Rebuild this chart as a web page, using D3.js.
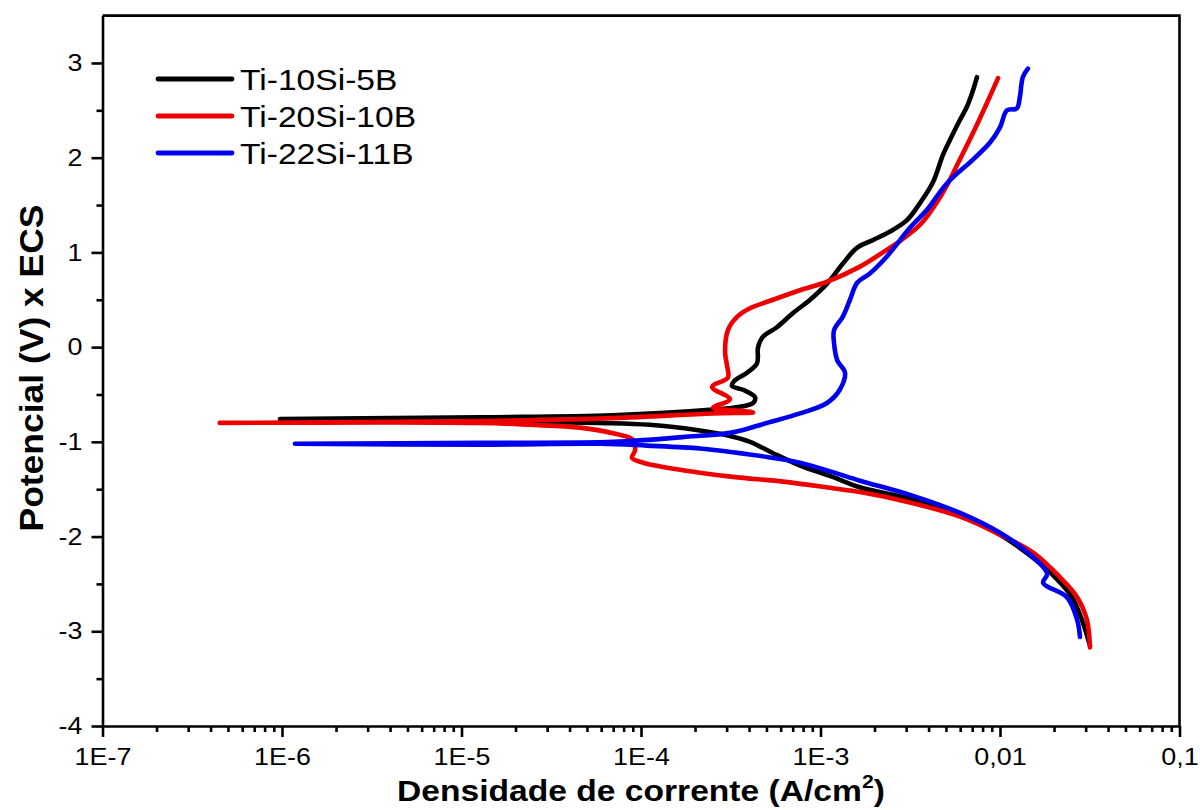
<!DOCTYPE html>
<html>
<head>
<meta charset="utf-8">
<script src="https://cdn.jsdelivr.net/npm/d3@7/dist/d3.min.js"></script>
<style>
  body { margin: 0; background: #fff; }
  svg text { font-family: "Liberation Sans", Arial, sans-serif; fill: #000; }
</style>
</head>
<body>
<svg id="chart" width="1200" height="810"></svg>
<script>
// nombres y colores de las series
const seriesNames = ["Ti-10Si-5B", "Ti-20Si-10B", "Ti-22Si-11B"];
const seriesColors = ["#000000", "#ee0000", "#0000ee"];

// Ti-10Si-5B : densidad de corriente (A/cm2) y potencial (V)
// primero la rama catodica (hasta Ecorr), despues la anodica
const blackCurrent = [3.17e-2, 2.86e-2, 2.52e-2, 2.03e-2, 1.47e-2, 1.00e-2, 5.99e-3, 3.15e-3, 1.66e-3, 1.17e-3,
  7.69e-4, 5.44e-4, 4.05e-4, 3.01e-4, 2.13e-4, 1.12e-4, 5.91e-5, 1.27e-5, 9.75e-7,
  9.75e-7, 1.27e-5, 6.98e-5, 2.52e-4, 3.56e-4, 4.21e-4, 4.32e-4, 3.70e-4, 3.21e-4, 3.30e-4, 3.90e-4,
  4.43e-4, 4.49e-4, 4.78e-4, 5.72e-4, 7.03e-4, 8.75e-4, 1.087e-3, 1.33e-3, 1.60e-3, 1.96e-3, 2.44e-3,
  3.03e-3, 3.58e-3, 4.23e-3, 4.81e-3, 5.27e-3, 5.99e-3, 6.55e-3, 7.07e-3, 7.44e-3];
const blackPotential = [-3.15, -2.88, -2.64, -2.43, -2.20, -1.98, -1.78, -1.60, -1.48, -1.37,
  -1.25, -1.12, -1.00, -0.93, -0.88, -0.82, -0.80, -0.78, -0.76,
  -0.76, -0.74, -0.72, -0.66, -0.63, -0.59, -0.53, -0.45, -0.41, -0.36, -0.27,
  -0.17, 0.00, 0.11, 0.21, 0.36, 0.50, 0.67, 0.88, 1.05, 1.13, 1.22,
  1.34, 1.52, 1.74, 2.03, 2.19, 2.40, 2.54, 2.71, 2.85];
const blackSplit = 19; // indice donde empieza la rama anodica

// Ti-20Si-10B
const redCurrent = [3.17e-2, 3.05e-2, 2.69e-2, 2.16e-2, 1.53e-2, 1.00e-2, 5.99e-3, 3.15e-3, 1.66e-3, 1.17e-3,
  6.18e-4, 3.25e-4, 1.71e-4, 1.03e-4, 8.91e-5, 9.26e-5, 9.03e-5, 6.98e-5, 4.57e-5, 2.41e-5, 1.27e-5, 4.5e-7,
  4.5e-7, 1.27e-5, 6.98e-5, 2.52e-4, 4.21e-4, 3.56e-4, 2.52e-4, 3.13e-4, 2.49e-4, 3.05e-4, 3.01e-4, 2.94e-4,
  3.05e-4, 3.43e-4, 4.05e-4, 5.44e-4, 7.69e-4, 1.087e-3, 1.66e-3, 2.35e-3, 2.77e-3, 3.58e-3, 4.35e-3,
  5.07e-3, 5.76e-3, 7.07e-3, 8.47e-3, 9.75e-3];
const redPotential = [-3.17, -2.88, -2.64, -2.43, -2.17, -1.98, -1.79, -1.64, -1.53, -1.49,
  -1.42, -1.37, -1.30, -1.22, -1.17, -1.09, -0.98, -0.91, -0.85, -0.82, -0.80, -0.80,
  -0.80, -0.78, -0.75, -0.70, -0.69, -0.67, -0.64, -0.55, -0.42, -0.32, -0.19, -0.05,
  0.18, 0.32, 0.41, 0.50, 0.60, 0.69, 0.85, 1.03, 1.12, 1.29, 1.50,
  1.71, 1.92, 2.26, 2.58, 2.84];
const redSplit = 22;

// Ti-22Si-11B
const blueCurrent = [2.79e-2, 2.69e-2, 2.36e-2, 1.74e-2, 1.83e-2, 1.41e-2, 1.00e-2, 5.99e-3, 3.15e-3, 1.66e-3,
  1.17e-3, 7.69e-4, 5.04e-4, 3.25e-4, 2.13e-4, 1.08e-4, 5.91e-5, 1.27e-5, 1.18e-6,
  1.18e-6, 1.27e-5, 6.98e-5, 1.71e-4, 3.25e-4, 5.04e-4, 7.69e-4, 1.087e-3, 1.28e-3, 1.37e-3, 1.24e-3,
  1.19e-3, 1.19e-3, 1.33e-3, 1.46e-3, 1.60e-3, 1.89e-3, 2.35e-3, 3.15e-3, 3.92e-3, 5.07e-3,
  7.07e-3, 8.80e-3, 1.00e-2, 1.094e-2, 1.24e-2, 1.29e-2, 1.34e-2, 1.43e-2];
const bluePotential = [-3.06, -2.88, -2.64, -2.49, -2.39, -2.16, -1.96, -1.75, -1.56, -1.41,
  -1.32, -1.22, -1.16, -1.11, -1.07, -1.04, -1.02, -1.03, -1.02,
  -1.02, -1.01, -1.00, -0.95, -0.90, -0.80, -0.70, -0.59, -0.45, -0.27, -0.14,
  0.04, 0.18, 0.32, 0.50, 0.68, 0.78, 0.96, 1.26, 1.45, 1.73,
  1.98, 2.16, 2.32, 2.50, 2.52, 2.64, 2.85, 2.94];
const blueSplit = 19;

// ticks
const xTickValues = [1e-7, 1e-6, 1e-5, 1e-4, 1e-3, 1e-2, 1e-1];
const xTickLabels = ["1E-7", "1E-6", "1E-5", "1E-4", "1E-3", "0,01", "0,1"];
const yTickValues = [-4, -3, -2, -1, 0, 1, 2, 3];
const yMinorValues = [-3.5, -2.5, -1.5, -0.5, 0.5, 1.5, 2.5];

// caja del grafico
const margin = { top: 15.6, right: 20.5, bottom: 84, left: 102.5 };
const width = 1200 - margin.left - margin.right;
const height = 810 - margin.top - margin.bottom;
const stretch = 1.12; // el original tiene el texto algo ensanchado

const svg = d3.select("#chart");
const g = svg.append("g").attr("transform", `translate(${margin.left},${margin.top})`);

const x = d3.scaleLog().domain([1e-7, 1e-1]).range([0, width]);
const y = d3.scaleLinear().domain([-4, 3.5]).range([height, 0]);

// ticks menores del eje X: 2..9 en cada decada
let xMinor = [];
for (let d = -7; d < -1; d++) {
  for (let m = 2; m <= 9; m++) xMinor.push(m * Math.pow(10, d));
}

// marco superior y derecho
g.append("path")
  .attr("d", `M0,0H${width}V${height}`)
  .attr("fill", "none")
  .attr("stroke", "#000")
  .attr("stroke-width", 2.6);

// eje X
const axisX = g.append("g").attr("transform", `translate(0,${height})`)
  .call(d3.axisBottom(x).tickValues(xTickValues).tickSize(11).tickSizeOuter(0)
    .tickFormat((d, i) => xTickLabels[i]));
g.append("g").attr("transform", `translate(0,${height})`)
  .call(d3.axisBottom(x).tickValues(xMinor).tickSize(6).tickSizeOuter(0).tickFormat(""))
  .select(".domain").remove();

// eje Y (con guion normal, no el signo menos unicode)
const axisY = g.append("g")
  .call(d3.axisLeft(y).tickValues(yTickValues).tickSize(11).tickSizeOuter(0)
    .tickFormat(d => String(d)));
g.append("g")
  .call(d3.axisLeft(y).tickValues(yMinorValues).tickSize(6).tickSizeOuter(0).tickFormat(""))
  .select(".domain").remove();

g.selectAll(".domain, .tick line").attr("stroke", "#000").attr("stroke-width", 2.6);
axisX.selectAll(".tick text")
  .attr("font-size", 24).attr("dy", "1.05em")
  .attr("transform", `scale(${stretch},1)`);
axisY.selectAll(".tick text")
  .attr("font-size", 24)
  .attr("x", -20 / stretch)
  .attr("transform", `scale(${stretch},1)`);
svg.selectAll(".tick text").attr("font-family", null);

// curvas
const curves = [
  { name: seriesNames[0], color: seriesColors[0], xs: blackCurrent, ys: blackPotential, split: blackSplit },
  { name: seriesNames[1], color: seriesColors[1], xs: redCurrent, ys: redPotential, split: redSplit },
  { name: seriesNames[2], color: seriesColors[2], xs: blueCurrent, ys: bluePotential, split: blueSplit }
];

const line = d3.line()
  .x(d => x(d[0]))
  .y(d => y(d[1]))
  .curve(d3.curveCatmullRom.alpha(0.5));

// cada rama por separado, asi la punta de Ecorr no hace bucles
function branches(c) {
  let pts = c.xs.map((v, i) => [v, c.ys[i]]);
  return line(pts.slice(0, c.split)) + line(pts.slice(c.split));
}

g.append("g").selectAll("path")
  .data(curves)
  .enter()
  .append("path")
  .attr("d", branches)
  .attr("fill", "none")
  .attr("stroke", c => c.color)
  .attr("stroke-width", 4.6)
  .attr("stroke-linejoin", "round")
  .attr("stroke-linecap", "round");

// leyenda
const legend = svg.append("g").selectAll("g")
  .data(curves)
  .enter()
  .append("g")
  .attr("transform", (c, i) => `translate(158,${79 + i * 37})`);
legend.append("line")
  .attr("x1", 0).attr("x2", 74)
  .attr("stroke", c => c.color)
  .attr("stroke-width", 4.8)
  .attr("stroke-linecap", "round");
legend.append("text")
  .attr("transform", `translate(82,0) scale(${stretch},1)`)
  .attr("dy", "0.35em")
  .attr("font-size", 30)
  .text(c => c.name);

// titulos de los ejes
const xTitle = svg.append("text")
  .attr("transform", `translate(641,801) scale(${stretch},1)`)
  .attr("text-anchor", "middle")
  .attr("font-size", 30)
  .attr("font-weight", "bold");
xTitle.append("tspan").text("Densidade de corrente (A/cm");
xTitle.append("tspan").attr("font-size", 19).attr("dy", -13).text("2");
xTitle.append("tspan").attr("dy", 13).text(")");

svg.append("text")
  .attr("transform", "translate(43,368) rotate(-90)")
  .attr("text-anchor", "middle")
  .attr("font-size", 33)
  .attr("font-weight", "bold")
  .attr("textLength", 327)
  .attr("lengthAdjust", "spacingAndGlyphs")
  .text("Potencial (V) x ECS");
</script>
</body>
</html>
